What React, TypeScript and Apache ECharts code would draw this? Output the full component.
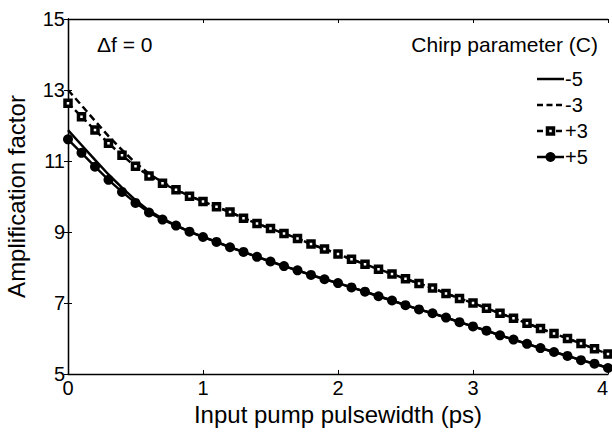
import React, { useEffect, useRef } from "react";
import * as echarts from "echarts";

const pulseWidths = [
  0, 0.1, 0.2, 0.3, 0.4, 0.5, 0.6, 0.7, 0.8, 0.9, 1.0,
  1.1, 1.2, 1.3, 1.4, 1.5, 1.6, 1.7, 1.8, 1.9, 2.0,
  2.1, 2.2, 2.3, 2.4, 2.5, 2.6, 2.7, 2.8, 2.9, 3.0,
  3.1, 3.2, 3.3, 3.4, 3.5, 3.6, 3.7, 3.8, 3.9, 4.0,
];

const chirpMinus5 = [
  11.87, 11.45, 11.03, 10.62, 10.25, 9.9, 9.6, 9.38, 9.19, 9.01, 8.86,
  8.72, 8.57, 8.44, 8.3, 8.17, 8.04, 7.92, 7.79, 7.67, 7.56,
  7.44, 7.32, 7.19, 7.07, 6.94, 6.82, 6.71, 6.59, 6.46, 6.34,
  6.22, 6.09, 5.97, 5.85, 5.73, 5.62, 5.51, 5.39, 5.29, 5.17,
];

const chirpMinus3 = [
  13.0, 12.57, 12.13, 11.7, 11.31, 10.95, 10.64, 10.4, 10.2, 10.01, 9.86,
  9.71, 9.56, 9.39, 9.24, 9.1, 8.96, 8.82, 8.66, 8.52, 8.38,
  8.23, 8.09, 7.95, 7.82, 7.68, 7.55, 7.42, 7.27, 7.13, 7.0,
  6.85, 6.71, 6.57, 6.43, 6.28, 6.14, 6.0, 5.86, 5.71, 5.56,
];

const chirpPlus3 = [
  12.63, 12.25, 11.87, 11.5, 11.16, 10.85, 10.58, 10.37, 10.19, 10.01, 9.86,
  9.71, 9.56, 9.39, 9.24, 9.1, 8.96, 8.82, 8.66, 8.52, 8.38,
  8.23, 8.09, 7.95, 7.82, 7.68, 7.55, 7.42, 7.27, 7.13, 7.0,
  6.85, 6.71, 6.57, 6.43, 6.28, 6.14, 6.0, 5.86, 5.71, 5.56,
];

const chirpPlus5 = [
  11.61, 11.23, 10.84, 10.47, 10.13, 9.82, 9.55, 9.35, 9.18, 9.01, 8.86,
  8.72, 8.57, 8.44, 8.3, 8.17, 8.04, 7.92, 7.79, 7.67, 7.56,
  7.44, 7.32, 7.19, 7.07, 6.94, 6.82, 6.71, 6.59, 6.46, 6.34,
  6.22, 6.09, 5.97, 5.85, 5.73, 5.62, 5.51, 5.39, 5.29, 5.17,
];

const seriesNames = ["-5", "-3", "+3", "+5"];
const xTicks = [0, 1, 2, 3, 4];
const yTicks = [5, 7, 9, 11, 13, 15];

const FONT = "Liberation Sans, Arial, sans-serif";

export default function App() {
  const ref = useRef<HTMLDivElement>(null);

  useEffect(() => {
    if (!ref.current) return;
    const chart = echarts.init(ref.current, undefined, { renderer: "svg" });
    const pairs = (ys: number[]) => pulseWidths.map((x, i) => [x, ys[i]]);
    const axisLine = { show: true, lineStyle: { color: "#000", width: 1.3 } };
    const tick = { show: true, inside: true, length: 4, lineStyle: { color: "#000", width: 1 } };

    // manual legend
    const lx1 = 537;
    const lx2 = 564;
    const lmid = 550.5;
    const rows = [79, 105, 131, 157];
    const textX = 565;
    const legendGraphics: any[] = [];
    const lineKinds = [
      { dash: null as number[] | null, marker: "none" },
      { dash: [6, 3.5], marker: "none" },
      { dash: [6, 3.5], marker: "rect" },
      { dash: null, marker: "circle" },
    ];
    seriesNames.forEach((name, i) => {
      const y = rows[i];
      const k = lineKinds[i];
      legendGraphics.push({
        type: "line",
        shape: { x1: lx1, y1: y, x2: lx2, y2: y },
        style: { stroke: "#000", lineWidth: 2.5, lineDash: k.dash || undefined },
        z: 10,
      });
      if (k.marker === "rect") {
        legendGraphics.push({
          type: "rect",
          shape: { x: lmid - 3, y: y - 3, width: 6, height: 6 },
          style: { fill: "#fff", stroke: "#000", lineWidth: 3.5 },
          z: 11,
        });
      } else if (k.marker === "circle") {
        legendGraphics.push({
          type: "circle",
          shape: { cx: lmid, cy: y, r: 5 },
          style: { fill: "#000" },
          z: 11,
        });
      }
      legendGraphics.push({
        type: "text",
        x: textX,
        y: y,
        style: {
          text: name,
          fontSize: 20,
          fill: "#000",
          fontFamily: FONT,
          verticalAlign: "middle",
          align: "left",
        },
        z: 10,
      });
    });

    chart.setOption({
      animation: false,
      backgroundColor: "#fff",
      textStyle: { fontFamily: FONT, color: "#000" },
      grid: {
        left: 68,
        right: 4,
        top: 19,
        bottom: 59,
        containLabel: false,
        outerBoundsMode: "none",
      },
      xAxis: [
        {
          type: "value",
          min: xTicks[0],
          max: xTicks[xTicks.length - 1],
          interval: 1,
          position: "bottom",
          name: "Input pump pulsewidth (ps)",
          nameLocation: "middle",
          nameGap: 17,
          nameTextStyle: { fontSize: 24, color: "#000", fontFamily: FONT },
          axisLine,
          axisTick: tick,
          axisLabel: {
            fontSize: 20,
            color: "#000",
            margin: 4,
            fontFamily: FONT,
            alignMaxLabel: "right",
          },
          splitLine: { show: false },
        },
        {
          type: "value",
          min: xTicks[0],
          max: xTicks[xTicks.length - 1],
          interval: 1,
          position: "top",
          axisLine,
          axisTick: tick,
          axisLabel: { show: false },
          splitLine: { show: false },
        },
      ],
      yAxis: [
        {
          type: "value",
          min: yTicks[0],
          max: yTicks[yTicks.length - 1],
          interval: 2,
          position: "left",
          name: "Amplification factor",
          nameLocation: "middle",
          nameGap: 40,
          nameTextStyle: { fontSize: 24, color: "#000", fontFamily: FONT },
          axisLine,
          axisTick: tick,
          axisLabel: { fontSize: 20, color: "#000", margin: 3, fontFamily: FONT },
          splitLine: { show: false },
        },
        {
          type: "value",
          min: yTicks[0],
          max: yTicks[yTicks.length - 1],
          interval: 2,
          position: "right",
          axisLine,
          axisTick: tick,
          axisLabel: { show: false },
          splitLine: { show: false },
        },
      ],
      legend: { show: false },
      graphic: [
        {
          type: "text",
          left: 97,
          top: 34,
          style: { text: "\u0394f = 0", fontSize: 21, fill: "#000", fontFamily: FONT },
        },
        {
          type: "text",
          right: 14,
          top: 34,
          style: { text: "Chirp parameter (C)", fontSize: 21, fill: "#000", fontFamily: FONT },
        },
        ...legendGraphics,
      ],
      series: [
        {
          name: seriesNames[0],
          type: "line",
          data: pairs(chirpMinus5),
          showSymbol: false,
          symbol: "none",
          lineStyle: { color: "#000", width: 2.5, type: "solid" },
          itemStyle: { color: "#000" },
          z: 2,
        },
        {
          name: seriesNames[1],
          type: "line",
          data: pairs(chirpMinus3),
          showSymbol: false,
          symbol: "none",
          lineStyle: { color: "#000", width: 2.5, type: [7, 4] },
          itemStyle: { color: "#000" },
          z: 2,
        },
        {
          name: seriesNames[2],
          type: "line",
          data: pairs(chirpPlus3),
          symbol: "rect",
          symbolSize: 6,
          lineStyle: { color: "#000", width: 2.4, type: [6, 4] },
          itemStyle: { color: "#fff", borderColor: "#000", borderWidth: 3.5 },
          z: 3,
        },
        {
          name: seriesNames[3],
          type: "line",
          data: pairs(chirpPlus5),
          symbol: "circle",
          symbolSize: 10,
          lineStyle: { color: "#000", width: 2.4, type: "solid" },
          itemStyle: { color: "#000", borderColor: "#000", borderWidth: 0 },
          z: 3,
        },
      ],
    });

    return () => chart.dispose();
  }, []);

  return (
    <div
      ref={ref}
      style={{ position: "fixed", left: 0, top: 0, width: 612, height: 433, background: "#fff" }}
    />
  );
}
